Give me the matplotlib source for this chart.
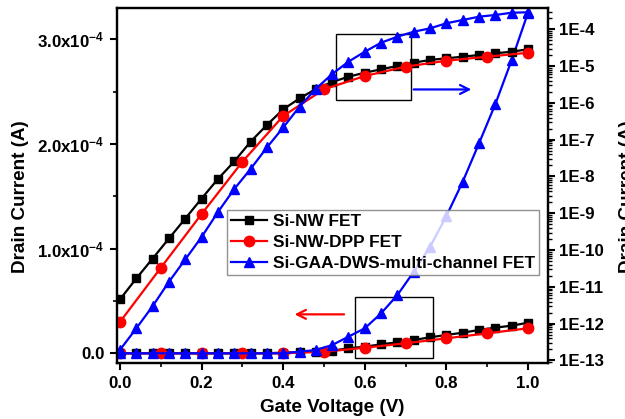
import matplotlib
matplotlib.use('Agg')
import matplotlib.pyplot as plt
from matplotlib.patches import Rectangle
from matplotlib.ticker import FixedLocator, NullFormatter, LogLocator, MultipleLocator
import numpy as np

plt.rcParams['font.family'] = ['Liberation Sans', 'DejaVu Sans']
plt.rcParams['font.weight'] = 'bold'
plt.rcParams['mathtext.fontset'] = 'custom'
plt.rcParams['mathtext.rm'] = 'Liberation Sans:bold'
plt.rcParams['mathtext.bf'] = 'Liberation Sans:bold'
plt.rcParams['mathtext.it'] = 'Liberation Sans:bold'
plt.rcParams['mathtext.default'] = 'regular'

# ---------------- data ----------------
v_fine = [0.00, 0.04, 0.08, 0.12, 0.16, 0.20, 0.24, 0.28, 0.32, 0.36, 0.40, 0.44, 0.48,
          0.52, 0.56, 0.60, 0.64, 0.68, 0.72, 0.76, 0.80, 0.84, 0.88, 0.92, 0.96, 1.00]
v_coarse = [0.0, 0.1, 0.2, 0.3, 0.4, 0.5, 0.6, 0.7, 0.8, 0.9, 1.0]

# log-scale (right axis) currents, A
nw_log = [4.6e-12, 1.7e-11, 5.9e-11, 2.07e-10, 7.2e-10, 2.52e-9, 8.55e-9, 2.56e-8, 8.83e-8,
          2.51e-7, 6.70e-7, 1.32e-6, 2.39e-6, 3.70e-6, 5.15e-6, 6.62e-6, 8.18e-6, 1.01e-5,
          1.24e-5, 1.47e-5, 1.63e-5, 1.80e-5, 2.00e-5, 2.23e-5, 2.46e-5, 2.86e-5]
dpp_log = [1.12e-12, 3.31e-11, 9.57e-10, 2.52e-8, 4.41e-7, 2.34e-6, 5.38e-6, 9.64e-6,
           1.40e-5, 1.80e-5, 2.31e-5]
gaa_log = [1.95e-13, 7.5e-13, 3.0e-12, 1.38e-11, 5.6e-11, 2.27e-10, 1.08e-9, 4.57e-9,
           1.60e-8, 6.14e-8, 2.15e-7, 7.89e-7, 2.42e-6, 6.10e-6, 1.32e-5, 2.46e-5, 4.33e-5,
           6.30e-5, 8.61e-5, 1.06e-4, 1.46e-4, 1.79e-4, 2.20e-4, 2.45e-4, 2.82e-4, 2.90e-4]

# linear-scale (left axis) currents, A
nw_lin = [0, 0, 0, 0, 0, 0, 0, 0, 0, 0, 0.7e-6, 1.0e-6, 1.5e-6,
          2.5e-6, 4.8e-6, 6.3e-6, 8.6e-6, 10.5e-6, 12.7e-6, 15.3e-6, 17.5e-6, 19.7e-6,
          22.3e-6, 24.5e-6, 26.4e-6, 29.2e-6]
dpp_lin = [0, 0, 0, 0, 0, 1.5e-6, 5.3e-6, 9.6e-6, 14.3e-6, 19.1e-6, 23.9e-6]
gaa_lin = [0, 0, 0, 0, 0, 0, 0, 0, 0, 0, 0, 1.5e-6, 3.2e-6,
           7.9e-6, 1.59e-5, 2.39e-5, 3.82e-5, 5.57e-5, 7.79e-5, 1.018e-4, 1.311e-4,
           1.639e-4, 2.006e-4, 2.381e-4, 2.801e-4, 3.253e-4]

labels = ['Si-NW FET', 'Si-NW-DPP FET', 'Si-GAA-DWS-multi-channel FET']
left_ticks = [0.0, 1.0e-4, 2.0e-4, 3.0e-4]
left_ticklabels = ['0.0', '1.0x10$^{-4}$', '2.0x10$^{-4}$', '3.0x10$^{-4}$']
right_ticks = [1e-13, 1e-12, 1e-11, 1e-10, 1e-9, 1e-8, 1e-7, 1e-6, 1e-5, 1e-4]
right_ticklabels = ['1E-13', '1E-12', '1E-11', '1E-10', '1E-9', '1E-8', '1E-7', '1E-6', '1E-5', '1E-4']
x_ticks = [0.0, 0.2, 0.4, 0.6, 0.8, 1.0]
x_ticklabels = ['0.0', '0.2', '0.4', '0.6', '0.8', '1.0']

# ---------------- figure ----------------
fig = plt.figure(figsize=(6.25, 4.19), dpi=100)
ax = fig.add_axes([117/625, 1 - 363/419, 431/625, 355/419])
ax2 = ax.twinx()

styles = [dict(color='black', marker='s', ms=6),
          dict(color='red', marker='o', ms=7.5),
          dict(color='blue', marker='^', ms=7.5)]

h1, = ax.plot(v_fine, nw_lin, lw=1.6, **styles[0])
h2, = ax.plot(v_coarse, dpp_lin, lw=1.6, **styles[1])
h3, = ax.plot(v_fine, gaa_lin, lw=1.6, **styles[2])

ax2.plot(v_fine, nw_log, lw=1.6, **styles[0])
ax2.plot(v_coarse, dpp_log, lw=1.6, **styles[1])
ax2.plot(v_fine, gaa_log, lw=1.6, **styles[2])

ax.set_xlim(-0.0074, 1.049)
ax.set_ylim(-0.0926e-4, 3.298e-4)
ax2.set_yscale('log')
ax2.set_ylim(8.55e-14, 3.79e-4)

ax.set_xticks(x_ticks)
ax.set_xticklabels(x_ticklabels)
ax.xaxis.set_minor_locator(MultipleLocator(0.1))
ax.set_yticks(left_ticks)
ax.set_yticklabels(left_ticklabels)
ax.yaxis.set_minor_locator(MultipleLocator(0.5e-4))

ax2.yaxis.set_major_locator(FixedLocator(right_ticks))
ax2.set_yticklabels(right_ticklabels)
ax2.yaxis.set_minor_locator(LogLocator(base=10, subs=np.arange(2, 10), numticks=200))
ax2.yaxis.set_minor_formatter(NullFormatter())

for a in (ax, ax2):
    for s in a.spines.values():
        s.set_linewidth(1.6)
ax.tick_params(axis='both', which='major', direction='out', length=5, width=1.5,
               labelsize=12.2, pad=4)
ax.tick_params(axis='both', which='minor', direction='out', length=3, width=1.2)
ax2.tick_params(axis='y', which='major', direction='out', length=5, width=1.5,
                labelsize=12.2, pad=3)
ax2.tick_params(axis='y', which='minor', direction='out', length=3, width=1.0)

ax.set_xlabel('Gate Voltage (V)', fontsize=13.6, fontweight='bold', labelpad=6)
ax.set_ylabel('Drain Current (A)', fontsize=13.6, fontweight='bold')
ax2.set_ylabel('Drain Current (A)', fontsize=13.6, fontweight='bold')
ax.yaxis.set_label_coords(-0.205, 0.468)
ax2.yaxis.set_label_coords(1.165, 0.468)

# zoom boxes
ax.add_patch(Rectangle((0.529, 2.419e-4), 0.713 - 0.529, 3.047e-4 - 2.419e-4,
                       fill=False, ec='black', lw=1.0, zorder=1))
ax.add_patch(Rectangle((0.576, -0.048e-4), 0.766 - 0.576, 0.541e-4 + 0.048e-4,
                       fill=False, ec='black', lw=1.0, zorder=1))
# arrows
ax.annotate('', xy=(0.868, 2.52e-4), xytext=(0.713, 2.52e-4),
            arrowprops=dict(arrowstyle='->', color='blue', lw=1.6, mutation_scale=16))
ax.annotate('', xy=(0.421, 0.372e-4), xytext=(0.556, 0.372e-4),
            arrowprops=dict(arrowstyle='->', color='red', lw=1.6, mutation_scale=16))

leg = ax2.legend([h1, h2, h3], labels, loc='upper right',
                 bbox_to_anchor=(0.979, 0.431), fontsize=12.4, frameon=True,
                 fancybox=False, edgecolor='#777777', handlelength=2.1,
                 handletextpad=0.3, labelspacing=0.33, borderpad=0.25,
                 borderaxespad=0.0)
leg.get_frame().set_linewidth(1.0)
for t in leg.get_texts():
    t.set_fontweight('bold')

fig.savefig('out.png', dpi=100)
